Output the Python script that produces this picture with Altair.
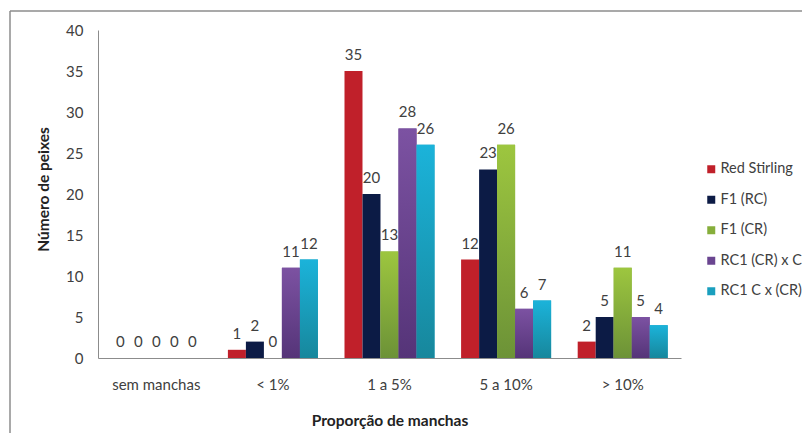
import altair as alt
import pandas as pd

categories = ["sem manchas", "<  1%", "1 a 5%", "5 a 10%", "> 10%"]
series = ["Red Stirling", "F1 (RC)", "F1 (CR)", "RC1 (CR) x C", "RC1 C x (CR)"]
red_stirling = [0, 1, 35, 12, 2]
f1_rc = [0, 2, 20, 23, 5]
f1_cr = [0, 0, 13, 26, 11]
rc1_cr_c = [0, 11, 28, 6, 5]
rc1_c_cr = [0, 12, 26, 7, 4]

values = [red_stirling, f1_rc, f1_cr, rc1_cr_c, rc1_c_cr]
rows = []
for s, vals in zip(series, values):
    for c, v in zip(categories, vals):
        rows.append({"cat": c, "serie": s, "val": v})
df = pd.DataFrame(rows)

solid = ["#C0202A", "#0C1B45", "#86AE3B", "#6A4590", "#1A9FBE"]
grads = {
    "F1 (CR)": ("#9DC63F", "#6C9237"),
    "RC1 (CR) x C": ("#7C52A2", "#553478"),
    "RC1 C x (CR)": ("#1BB3DA", "#17879C"),
}

FONT = "Lato"
TXT = "#404040"
FS = 15
TFS = 15.5

x_enc = alt.X("cat:N", sort=categories,
              scale=alt.Scale(domain=categories, paddingInner=0.228, paddingOuter=0.114),
              axis=alt.Axis(title="Proporção de manchas", labelAngle=0, ticks=False,
                            labelPadding=19, labelFontSize=FS, labelColor=TXT, labelFont=FONT,
                            domainColor="#8c8c8c", titleFont=FONT, titleFontSize=TFS,
                            titleFontWeight="bold", titleColor="#222", titleY=62,
                            titleBaseline="middle"))
xo_enc = alt.XOffset("serie:N", sort=series, scale=alt.Scale(domain=series, paddingInner=0, paddingOuter=0))
y_enc = alt.Y("val:Q", scale=alt.Scale(domain=[0, 40], nice=False),
              axis=alt.Axis(title="Número de peixes", values=list(range(0, 41, 5)), ticks=False,
                            grid=False, labelPadding=15, labelFontSize=FS, labelColor=TXT,
                            labelFont=FONT, domainColor="#8c8c8c", titleFont=FONT,
                            titleFontSize=TFS, titleFontWeight="bold", titleColor="#222",
                            titleX=-55, titleY=159, titleBaseline="middle", titleAngle=270))

base = alt.Chart(df)

bars = base.mark_bar().encode(
    x=x_enc, xOffset=xo_enc, y=y_enc,
    color=alt.Color("serie:N", sort=series, scale=alt.Scale(domain=series, range=solid),
                    legend=alt.Legend(title=None, orient="none", legendX=606, legendY=132,
                                      symbolType="square", symbolSize=64, symbolStrokeWidth=0,
                                      labelFontSize=14.5, labelFont=FONT, labelColor=TXT,
                                      rowPadding=15.5, labelOffset=2, labelLimit=200)),
)

layers = [bars]
for s, (top, bot) in grads.items():
    g = {"gradient": "linear", "x1": 0, "y1": 0, "x2": 0, "y2": 1,
         "stops": [{"offset": 0, "color": top}, {"offset": 1, "color": bot}]}
    layers.append(
        base.transform_filter(alt.datum.serie == s).mark_bar(fill=g).encode(
            x=alt.X("cat:N", sort=categories), xOffset=alt.XOffset("serie:N", sort=series), y="val:Q")
    )

labels = base.mark_text(baseline="middle", dy=-16, fontSize=FS, font=FONT, color=TXT).encode(
    x=alt.X("cat:N", sort=categories), xOffset=alt.XOffset("serie:N", sort=series),
    y="val:Q", text="val:Q")
layers.append(labels)

frame_df = pd.DataFrame({"a": [0]})
left_line = alt.Chart(frame_df).mark_rule(color="#8c8c8c", strokeWidth=1.5).encode(
    x=alt.value(-88), y=alt.value(-19), y2=alt.value(500))
top_line = alt.Chart(frame_df).mark_rule(color="#8c8c8c", strokeWidth=1.5).encode(
    x=alt.value(-88), x2=alt.value(800), y=alt.value(-19))
layers += [left_line, top_line]

chart = alt.layer(*layers).properties(
    width=583, height=328,
    background="white",
    autosize=alt.AutoSizeParams(type="none"),
    padding={"left": 90, "top": 22, "right": 121, "bottom": 75},
).configure_view(stroke=None)

chart.save("out.html", embed_options={"renderer": "svg", "actions": False})
